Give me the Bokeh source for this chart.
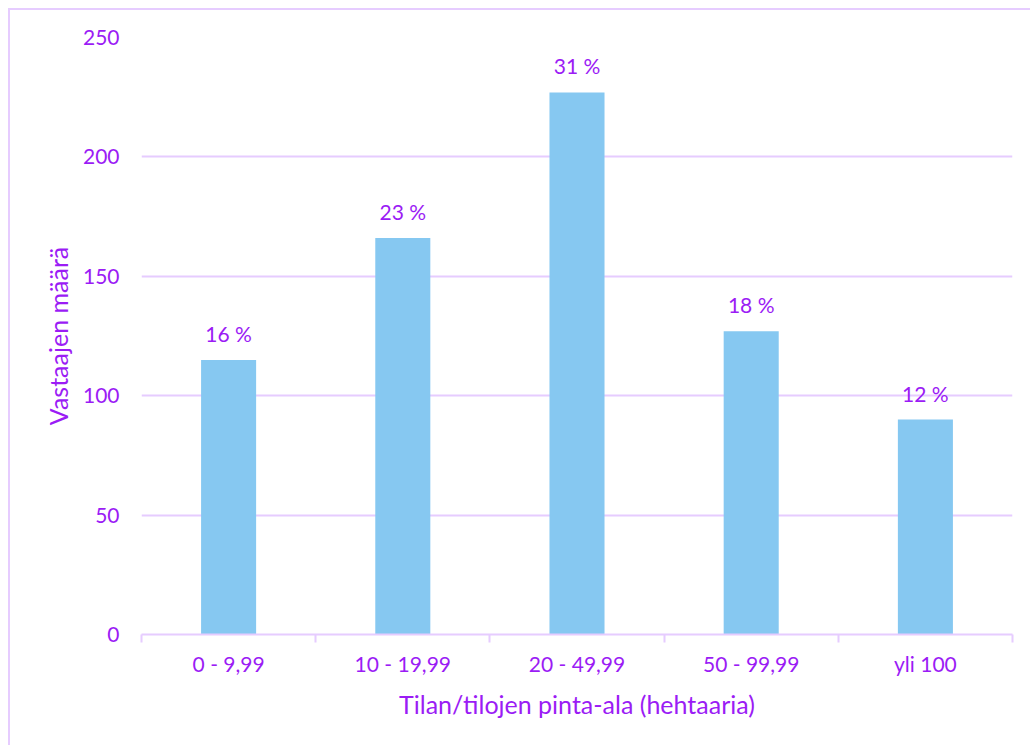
from bokeh.plotting import figure
from bokeh.models import FixedTicker, Range1d, ColumnDataSource
from bokeh.core.properties import value
from bokeh.embed import file_html
from bokeh.resources import INLINE

categories = ["0 - 9,99", "10 - 19,99", "20 - 49,99", "50 - 99,99", "yli 100"]
counts = [115, 166, 227, 127, 90]
pct_labels = ["16 %", "23 %", "31 %", "18 %", "12 %"]
y_ticks = [0, 50, 100, 150, 200, 250]

PURPLE = "#9B1CF5"
GRID = "#E6CCFF"
BAR = "#86C8F1"
FONT = "Lato"

xs = [i + 0.5 for i in range(len(categories))]
src = ColumnDataSource(dict(x=xs, top=counts, lab=pct_labels))

p = figure(width=1022, height=737, output_backend="svg", toolbar_location=None,
           x_range=Range1d(0, len(categories)), y_range=Range1d(0, 250),
           min_border_left=131, min_border_right=20, min_border_top=27, min_border_bottom=113)
p.margin = (8, 0, 0, 8)
p.styles = {"border-left": "2px solid #E6CCFF", "border-top": "2px solid #E6CCFF"}
p.outline_line_color = None
p.border_fill_color = "white"
p.background_fill_color = "white"

p.vbar(x="x", top="top", width=0.316, bottom=0, source=src, color=BAR, line_color=None)
p.text(x="x", y="top", text="lab", source=src, text_align="center", text_baseline="bottom",
       y_offset=-14, text_color=PURPLE, text_font=value(FONT), text_font_size="21px")

# x axis
p.xaxis.ticker = FixedTicker(ticks=xs, minor_ticks=list(range(len(categories) + 1)))
p.xaxis.major_label_overrides = {x: c for x, c in zip(xs, categories)}
p.xaxis.major_tick_line_color = None
p.xaxis.minor_tick_in = 0
p.xaxis.minor_tick_out = 8
p.xaxis.minor_tick_line_color = GRID
p.xaxis.minor_tick_line_width = 2
p.xaxis.axis_line_color = GRID
p.xaxis.axis_line_width = 2
p.xaxis.major_label_text_color = PURPLE
p.xaxis.major_label_text_font = FONT
p.xaxis.major_label_text_font_size = "21px"
p.xaxis.major_label_standoff = 8
p.xaxis.axis_label = "Tilan/tilojen pinta-ala (hehtaaria)"
p.xaxis.axis_label_text_color = PURPLE
p.xaxis.axis_label_text_font = FONT
p.xaxis.axis_label_text_font_size = "25px"
p.xaxis.axis_label_text_font_style = "normal"
p.xaxis.axis_label_standoff = 10

# y axis
p.yaxis.ticker = FixedTicker(ticks=y_ticks)
p.yaxis.axis_line_color = None
p.yaxis.major_tick_line_color = None
p.yaxis.minor_tick_line_color = None
p.yaxis.major_label_text_color = PURPLE
p.yaxis.major_label_text_font = FONT
p.yaxis.major_label_text_font_size = "21px"
p.yaxis.major_label_standoff = 16
p.yaxis.axis_label = "Vastaajen määrä"
p.yaxis.axis_label_text_color = PURPLE
p.yaxis.axis_label_text_font = FONT
p.yaxis.axis_label_text_font_size = "25px"
p.yaxis.axis_label_text_font_style = "normal"
p.yaxis.axis_label_standoff = 7

p.xgrid.grid_line_color = None
p.ygrid.grid_line_color = GRID
p.ygrid.grid_line_width = 2

open("out.html", "w").write(file_html(p, INLINE))
